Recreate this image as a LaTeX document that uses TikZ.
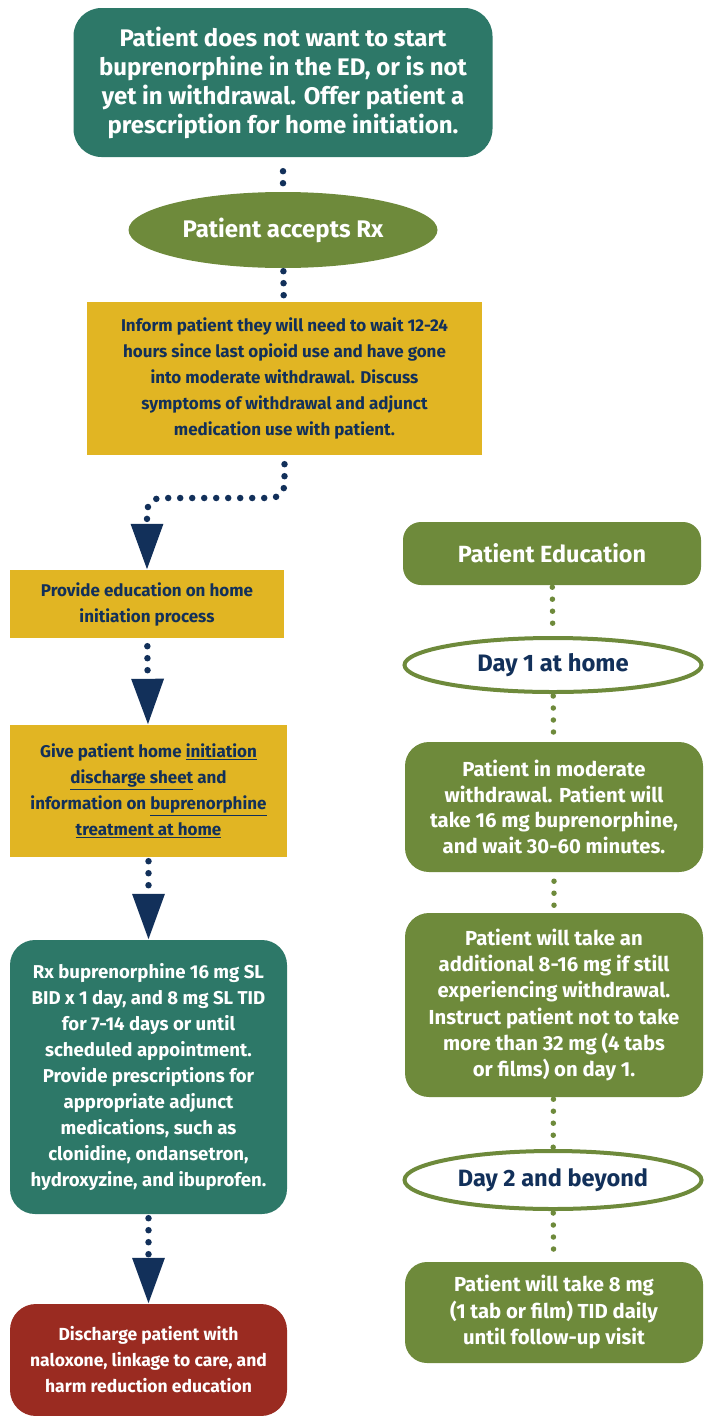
\documentclass[tikz,border=0pt]{standalone}
\usepackage{fontspec}
\setmainfont{Fira Sans}
\usetikzlibrary{shapes.geometric,arrows.meta}

\definecolor{teal}{HTML}{2D7868}
\definecolor{olive}{HTML}{6E8A3B}
\definecolor{mustard}{HTML}{E1B523}
\definecolor{navy}{HTML}{12305A}
\definecolor{brick}{HTML}{9A2B21}

\tikzset{
  box/.style={rectangle,inner sep=0pt,align=center,font=\bfseries},
  tealbox/.style={box,fill=teal,text=white,rounded corners=28pt},
  yellowbox/.style={box,fill=mustard,text=navy},
  greenbox/.style={box,fill=olive,text=white,rounded corners=24pt},
  redbox/.style={box,fill=brick,text=white,rounded corners=26pt},
  oval/.style={ellipse,inner sep=0pt,align=center,font=\bfseries},
  navydots/.style={navy,line width=6.5pt,line cap=round,dash pattern=on 0pt off 12pt},
  greendots/.style={olive,line width=5.5pt,line cap=round,dash pattern=on 0pt off 12pt},
  arrowhead/.style={-{Triangle[width=31pt,length=46pt]}}
}

\begin{document}
\begin{tikzpicture}[x=1pt,y=-1pt]
\useasboundingbox (0,0) rectangle (708,1416);

% left column
\node[tealbox,minimum width=419pt,minimum height=149pt,font=\bfseries\fontsize{24}{29}\selectfont] (start) at (283,82.5)
  {Patient does not want to start\\buprenorphine in the ED, or is not\\yet in withdrawal. Offer patient a\\prescription for home initiation.};
\node[oval,fill=olive,text=white,minimum width=309pt,minimum height=76pt,font=\bfseries\fontsize{24}{28}\selectfont] (accept) at (283,230) {Patient accepts Rx};
\node[yellowbox,minimum width=395pt,minimum height=153pt,font=\bfseries\fontsize{17}{26}\selectfont] (inform) at (284.5,378.5)
  {Inform patient they will need to wait 12-24\\hours since last opioid use and have gone\\into moderate withdrawal. Discuss\\symptoms of withdrawal and adjunct\\medication use with patient.};
\node[yellowbox,minimum width=274pt,minimum height=68pt,font=\bfseries\fontsize{17}{26}\selectfont] (educate) at (147,604)
  {Provide education on home\\initiation process};
\node[yellowbox,minimum width=277pt,minimum height=132pt,font=\bfseries\fontsize{17}{26}\selectfont] (sheet) at (148.5,791)
  {Give patient home \underline{initiation}\\\underline{discharge sheet} and\\information on \underline{buprenorphine}\\\underline{treatment at home}};
\node[tealbox,minimum width=277pt,minimum height=274pt,rounded corners=25pt,font=\bfseries\fontsize{18.6}{25.9}\selectfont] (rx) at (148.5,1077)
  {Rx buprenorphine 16 mg SL\\BID x 1 day, and 8 mg SL TID\\for 7-14 days or until\\scheduled appointment.\\Provide prescriptions for\\appropriate adjunct\\medications, such as\\clonidine, ondansetron,\\hydroxyzine, and ibuprofen.};
\node[redbox,minimum width=277pt,minimum height=112pt,font=\bfseries\fontsize{17.5}{26}\selectfont] (discharge) at (148.5,1360)
  {Discharge patient with\\naloxone, linkage to care, and\\harm reduction education};

% right column
\node[greenbox,minimum width=298pt,minimum height=63pt,rounded corners=18pt,font=\bfseries\fontsize{23.4}{28}\selectfont] (ptedu) at (552,553.5) {Patient Education};
\node[oval,draw=olive,line width=4pt,fill=white,text=navy,minimum width=297pt,minimum height=54pt,font=\bfseries\fontsize{23.8}{28}\selectfont] (day1) at (553,665) {Day 1 at home};
\node[greenbox,minimum width=298pt,minimum height=130pt,font=\bfseries\fontsize{20.3}{25.8}\selectfont] (moderate) at (554,807)
  {Patient in moderate\\withdrawal. Patient will\\take 16 mg buprenorphine,\\and wait 30-60 minutes.};
\node[greenbox,minimum width=298pt,minimum height=184pt,font=\bfseries\fontsize{20.3}{26.2}\selectfont] (additional) at (554,1005)
  {Patient will take an\\additional 8-16 mg if still\\experiencing withdrawal.\\Instruct patient not to take\\more than 32 mg (4 tabs\\or films) on day 1.};
\node[oval,draw=olive,line width=4pt,fill=white,text=navy,minimum width=297pt,minimum height=58pt,font=\bfseries\fontsize{23.6}{28}\selectfont] (day2) at (553,1180) {Day 2 and beyond};
\node[greenbox,minimum width=298pt,minimum height=101pt,rounded corners=22pt,font=\bfseries\fontsize{20.3}{26.5}\selectfont] (daily) at (554,1312.5)
  {Patient will take 8 mg\\(1 tab or film) TID daily\\until follow-up visit};

% connectors
\draw[navydots,shorten <=14pt,shorten >=4pt] (start) -- (accept);
\draw[navydots,shorten <=3pt,shorten >=4pt] (accept) -- (inform);
\draw[navydots,arrowhead,rounded corners=14pt,shorten <=9pt] (inform.south) -- (inform.south |- 0,498) -- (educate.north |- 0,498) -- (educate.north);
\draw[navydots,arrowhead,shorten <=8pt] (educate) -- (sheet);
\draw[navydots,arrowhead,shorten <=4pt] (sheet) -- (rx);
\draw[navydots,arrowhead,shorten <=4pt] (rx) -- (discharge);

\draw[greendots,shorten <=2pt,shorten >=1pt] (ptedu) -- (day1);
\draw[greendots,shorten <=2pt,shorten >=1pt] (day1) -- (moderate);
\draw[greendots,shorten <=9pt,shorten >=5pt] (moderate) -- (additional);
\draw[greendots,shorten <=2pt,shorten >=1pt] (additional) -- (day2);
\draw[greendots,shorten <=2pt,shorten >=1pt] (day2) -- (daily);
\end{tikzpicture}
\end{document}
